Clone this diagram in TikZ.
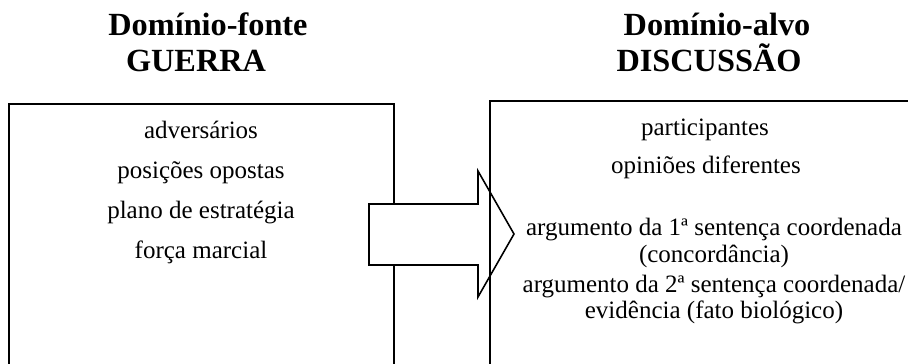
\documentclass[tikz,border=0pt]{standalone}
\usepackage{fontspec}
\setmainfont{Liberation Serif}
\begin{document}
\begin{tikzpicture}[x=1pt,y=-1pt,
  frame/.style={line width=1.6pt},
  title/.style={anchor=base,inner sep=0pt,font=\fontsize{32.3}{36}\selectfont\bfseries},
  item/.style={anchor=base,inner sep=0pt,font=\fontsize{25}{28}\selectfont},
  blockarrow/.style={line width=1.6pt,fill=white,line join=miter}]
\useasboundingbox (0,0) rectangle (908,364);
\clip (0,0) rectangle (908,364);

% headings
\node[title] (srcname) at (208,35) {Domínio-fonte};
\node[title] (srcword) at (196,71) {GUERRA};
\node[title] (tgtname) at (717,35) {Domínio-alvo};
\node[title] (tgtword) at (709,71) {DISCUSSÃO};

% source domain frame
\draw[frame] (9,104) rectangle (394,390);

% mapping arrow
\coordinate (tail) at (369,234);
\coordinate (tip) at (514,234);
\draw[blockarrow] (369,204) -- (478,204) -- (478,171) -- (tip)
  -- (478,297) -- (478,265) -- (369,265) -- cycle;

% target domain frame
\draw[frame] (490,101) rectangle (940,390);

% source domain items
\node[item] (s1) at (201,138) {adversários};
\node[item] (s2) at (201,178) {posições opostas};
\node[item] (s3) at (201,218) {plano de estratégia};
\node[item] (s4) at (201,258) {força marcial};

% target domain items
\node[item] (t1) at (705,135) {participantes};
\node[item] (t2) at (706,173) {opiniões diferentes};
\node[item] (t3) at (714,235) {argumento da 1ª sentença coordenada};
\node[item] (t3b) at (714,262) {(concordância)};
\node[item] (t4) at (714,292) {argumento da 2ª sentença coordenada/};
\node[item] (t4b) at (714,318) {evidência (fato biológico)};
\end{tikzpicture}
\end{document}
